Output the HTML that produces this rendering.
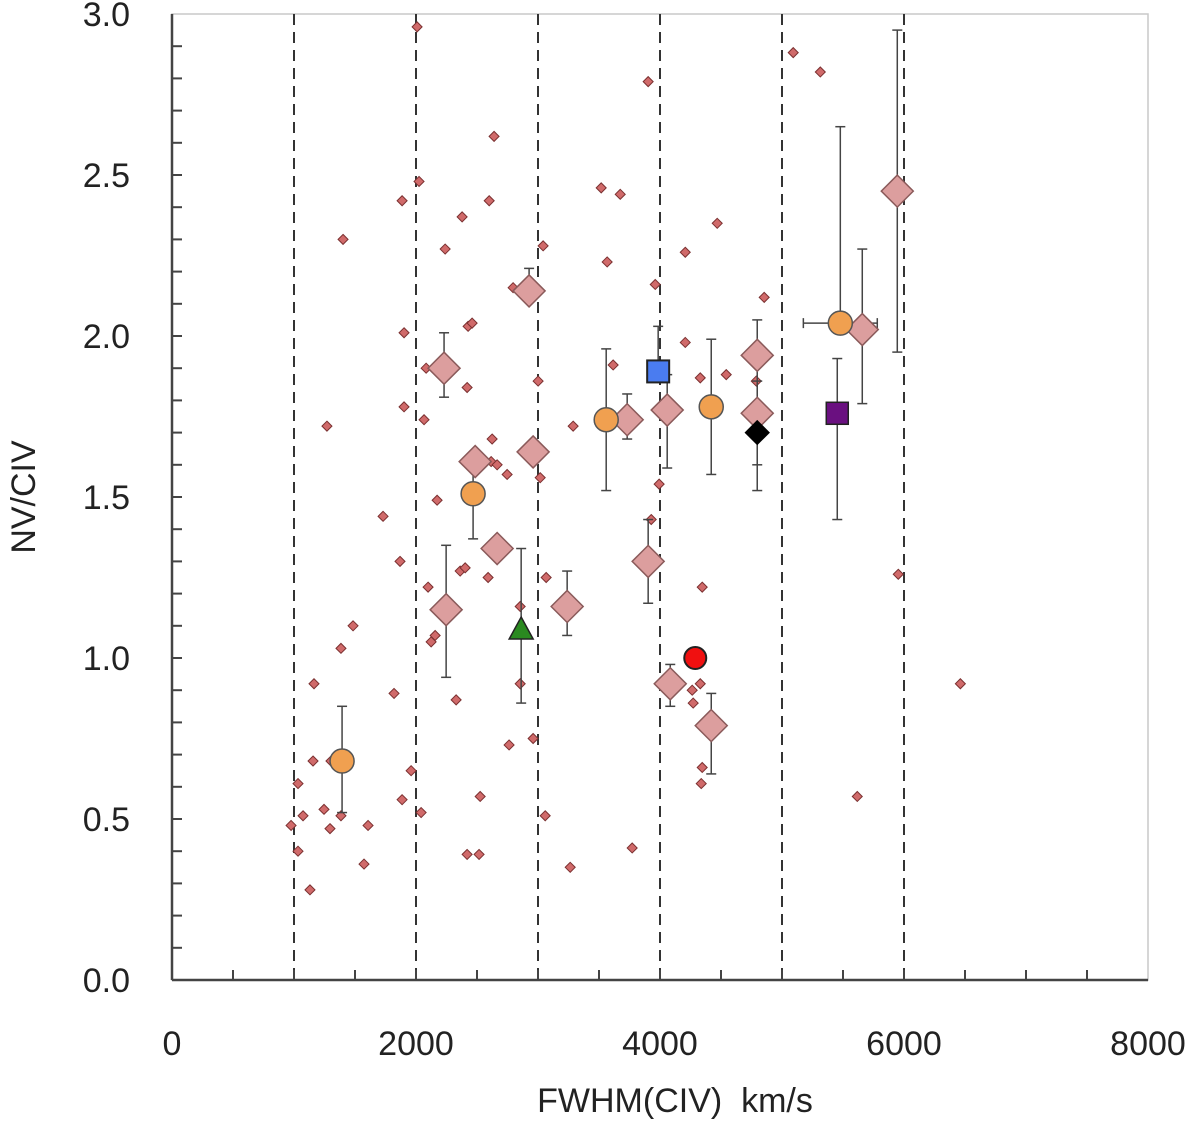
<!DOCTYPE html>
<html><head><meta charset="utf-8"><style>
html,body{margin:0;padding:0;background:#fff;}
svg{display:block;font-family:"Liberation Sans",sans-serif;}
</style></head><body>
<svg id="chart" width="1200" height="1130"></svg>
<script>
const smallX=[976,1033,1033,1074,1131,1164,1156,1246,1270,1295,1303,1385,1385,1402,1484,1574,1607,1820,1730,1869,1886,1886,1902,1902,1960,2009,2025,2042,2066,2083,2099,2124,2157,2173,2239,2329,2362,2378,2403,2419,2427,2460,2419,2517,2526,2591,2600,2624,2640,2616,2665,2747,2763,2796,2854,2854,2960,3001,3018,3042,3059,3067,3288,3264,3518,3567,3616,3674,3772,3903,3928,3961,3993,4207,4207,4264,4272,4330,4330,4346,4346,4338,4469,4543,4789,4854,5092,5314,5617,5953,6462];
const smallY=[0.48,0.61,0.40,0.51,0.28,0.92,0.68,0.53,1.72,0.47,0.68,1.03,0.51,2.30,1.10,0.36,0.48,0.89,1.44,1.30,0.56,2.42,1.78,2.01,0.65,2.96,2.48,0.52,1.74,1.90,1.22,1.05,1.07,1.49,2.27,0.87,1.27,2.37,1.28,1.84,2.03,2.04,0.39,0.39,0.57,1.25,2.42,1.68,2.62,1.61,1.60,1.57,0.73,2.15,1.16,0.92,0.75,1.86,1.56,2.28,0.51,1.25,1.72,0.35,2.46,2.23,1.91,2.44,0.41,2.79,1.43,2.16,1.54,2.26,1.98,0.90,0.86,1.87,0.92,1.22,0.66,0.61,2.35,1.88,1.86,2.12,2.88,2.82,0.57,1.26,0.92];
const bigX=[2230,2485,2247,2665,2960,2927,3239,3731,3903,4059,4084,4420,4797,4797,5658,5945];
const bigY=[1.90,1.61,1.15,1.34,1.64,2.14,1.16,1.74,1.30,1.77,0.92,0.79,1.94,1.76,2.02,2.45];
const bigHi=[2.01,1.61,1.35,1.34,1.64,2.21,1.27,1.82,1.43,1.88,0.98,0.89,2.05,1.92,2.27,2.95];
const bigLo=[1.81,1.61,0.94,1.34,1.64,2.14,1.07,1.68,1.17,1.59,0.85,0.64,1.94,1.60,1.79,1.95];
const orX=[1394,2468,3559,4420,5478];
const orY=[0.68,1.51,1.74,1.78,2.04];
const orHi=[0.85,1.61,1.96,1.99,2.65];
const orLo=[0.52,1.37,1.52,1.57,2.04];
const orXLo=[1394,2468,3559,4420,5175];
const orXHi=[1394,2468,3559,4420,5781];
const specX=[3985,5453,4797,2862,4289];
const specY=[1.89,1.76,1.70,1.09,1.00];
const specHi=[2.03,1.93,1.86,1.34,1.00];
const specLo=[1.89,1.43,1.52,0.86,1.00];
const xTicks=[0,2000,4000,6000,8000];
const yTicks=[0.0,0.5,1.0,1.5,2.0,2.5,3.0];
const vLines=[1000,2000,3000,4000,5000,6000];

const NS="http://www.w3.org/2000/svg";
const svg=document.getElementById('chart');
const X0=172,X1=1148,Y0=980,Y1=14;
const sx=v=>X0+v/8000*(X1-X0);
const sy=v=>Y0-v/3*(Y0-Y1);
function mk(tag,attrs,parent){const e=document.createElementNS(NS,tag);for(const k in attrs)e.setAttribute(k,attrs[k]);(parent||svg).appendChild(e);return e;}

// frame
let fr=mk('rect',{x:X0,y:Y1,width:X1-X0,height:Y0-Y1,fill:'none',stroke:'#c8c8c8','stroke-width':1.5});


// dashed lines
vLines.forEach(v=>{const l=mk('line',{x1:sx(v),x2:sx(v),y1:Y1,y2:Y0,stroke:'#333','stroke-width':2,'stroke-dasharray':'11,7'});

});
// axes
let ax=mk('line',{x1:X0,x2:X1,y1:Y0,y2:Y0,stroke:'#444','stroke-width':2.5});


let ay=mk('line',{x1:X0,x2:X0,y1:Y0,y2:Y1,stroke:'#444','stroke-width':2.5});


for(let v=500;v<8000;v+=500){mk('line',{x1:sx(v),x2:sx(v),y1:Y0,y2:Y0-10,stroke:'#444','stroke-width':2});}
for(let i=1;i<30;i++){mk('line',{x1:X0,x2:X0+10,y1:sy(i/10),y2:sy(i/10),stroke:'#444','stroke-width':2});}
xTicks.forEach(v=>{const t=mk('text',{x:sx(v),y:1055,'text-anchor':'middle','font-size':34,fill:'#222'});t.textContent=v;

});
yTicks.forEach(v=>{const t=mk('text',{x:130,y:sy(v)+12,'text-anchor':'end','font-size':34,fill:'#222'});t.textContent=v.toFixed(1);

});
let xt=mk('text',{x:675,y:1112,'text-anchor':'middle','font-size':34,fill:'#222'});xt.textContent='FWHM(CIV)  km/s';


xt.setAttribute('xml:space','preserve');xt.style.whiteSpace='pre';
let yt=mk('text',{x:0,y:0,'text-anchor':'middle','font-size':34,fill:'#222',transform:'translate(35,497) rotate(-90)'});yt.textContent='NV/CIV';



function ebar(x,lo,hi){if(hi-lo<0.001)return;const g=mk('g',{stroke:'#444','stroke-width':1.5});
mk('line',{x1:sx(x),x2:sx(x),y1:sy(lo),y2:sy(hi)},g);
mk('line',{x1:sx(x)-5,x2:sx(x)+5,y1:sy(lo),y2:sy(lo)},g);
mk('line',{x1:sx(x)-5,x2:sx(x)+5,y1:sy(hi),y2:sy(hi)},g);}
function diamond(x,y,r,fill,stroke,sw){return mk('polygon',{points:`${sx(x)},${sy(y)-r} ${sx(x)+r},${sy(y)} ${sx(x)},${sy(y)+r} ${sx(x)-r},${sy(y)}`,fill:fill,stroke:stroke,'stroke-width':sw});}

smallX.forEach((x,i)=>{const d=diamond(x,smallY[i],5,'#d06a6a','#7a3030',1);

});
bigX.forEach((x,i)=>{ebar(x,bigLo[i],bigHi[i]);});
orX.forEach((x,i)=>{ebar(x,orLo[i],orHi[i]);
if(orXHi[i]>orXLo[i]){const g=mk('g',{stroke:'#444','stroke-width':1.5});mk('line',{x1:sx(orXLo[i]),x2:sx(orXHi[i]),y1:sy(orY[i]),y2:sy(orY[i])},g);
mk('line',{x1:sx(orXLo[i]),x2:sx(orXLo[i]),y1:sy(orY[i])-5,y2:sy(orY[i])+5},g);mk('line',{x1:sx(orXHi[i]),x2:sx(orXHi[i]),y1:sy(orY[i])-5,y2:sy(orY[i])+5},g);}});
specX.forEach((x,i)=>ebar(x,specLo[i],specHi[i]));
bigX.forEach((x,i)=>{const d=diamond(x,bigY[i],16,'#dc9e9e','#8a5a5a',1.5);

});
orX.forEach((x,i)=>{const c=mk('circle',{cx:sx(x),cy:sy(orY[i]),r:12,fill:'#f0a050',stroke:'#555','stroke-width':1.5});

});
// special markers
let s0=mk('rect',{x:sx(specX[0])-11,y:sy(specY[0])-11,width:22,height:22,fill:'#4a7cf0',stroke:'#222','stroke-width':2});


let s1=mk('rect',{x:sx(specX[1])-11,y:sy(specY[1])-11,width:22,height:22,fill:'#6a1080',stroke:'#222','stroke-width':1.5});


let s2=diamond(specX[2],specY[2],12,'#000','#000',1);


let tx=sx(specX[3]),ty=sy(specY[3]);
let s3=mk('polygon',{points:`${tx},${ty-12} ${tx+12},${ty+10} ${tx-12},${ty+10}`,fill:'#2a8a20',stroke:'#222','stroke-width':1.5});


let s4=mk('circle',{cx:sx(specX[4]),cy:sy(specY[4]),r:11,fill:'#f01010',stroke:'#222','stroke-width':2});


</script>
</body></html>
